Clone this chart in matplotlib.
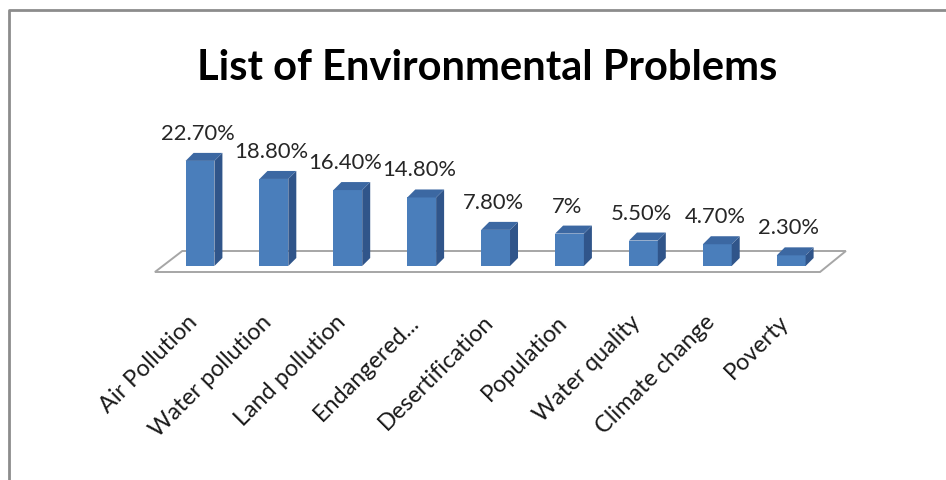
import matplotlib
matplotlib.use("Agg")
import matplotlib.pyplot as plt
from matplotlib.patches import Polygon
from matplotlib.lines import Line2D

categories = ["Air Pollution", "Water pollution", "Land pollution", "Endangered...",
              "Desertification", "Population", "Water quality", "Climate change", "Poverty"]
values = [22.7, 18.8, 16.4, 14.8, 7.8, 7.0, 5.5, 4.7, 2.3]
value_labels = ["22.70%", "18.80%", "16.40%", "14.80%", "7.80%", "7%", "5.50%", "4.70%", "2.30%"]

FONT = "Lato"
W, H = 946, 481
fig = plt.figure(figsize=(W / 100, H / 100), dpi=100)
ax = fig.add_axes([0, 0, 1, 1])

# pixel scale mapping (px per category, px per percent)
sx, sy = 73.9, 4.63
x0_px, base_px = 200, 267
ax.set_xlim(-x0_px / sx, (W - x0_px) / sx)
ax.set_ylim(-(H - base_px) / sy, base_px / sy)
ax.axis("off")

n = len(values)
dx, dy = 8 / sx, 8 / sy
w = 0.195

front_c, side_c, top_c = "#4a7ebb", "#30558a", "#3c68a2"

# floor
fl_front, fl_back = -6 / sy, 15 / sy
floor = Polygon([(-0.61, fl_front), (n - 1 + 0.39, fl_front),
                 (n - 1 + 0.74, fl_back), (-0.24, fl_back)],
                closed=True, facecolor="white", edgecolor="#a6a6a6", lw=1.4, zorder=1)
ax.add_patch(floor)

xs = list(range(n))
ax.bar(xs, values, width=2 * w, color=front_c, zorder=3, linewidth=0)
for i, v in zip(xs, values):
    side = Polygon([(i + w, 0), (i + w + dx, dy), (i + w + dx, v + dy), (i + w, v)],
                   closed=True, facecolor=side_c, edgecolor="none", zorder=3)
    top = Polygon([(i - w, v), (i + w, v), (i + w + dx, v + dy), (i - w + dx, v + dy)],
                  closed=True, facecolor=top_c, edgecolor="none", zorder=3)
    ax.add_patch(side)
    ax.add_patch(top)

for i, (v, lab) in enumerate(zip(values, value_labels)):
    ax.text(i - 0.03, v + 28 / sy, lab, ha="center", va="center",
            fontsize=15.8, family=FONT, color="#262626", zorder=5)

for i, c in enumerate(categories):
    ax.text(i - 0.08, -52 / sy, c, rotation=45, rotation_mode="anchor",
            ha="right", va="center", fontsize=16.8, family=FONT, color="#1a1a1a")

fig.text(487 / W, 1 - 68 / H, "List of Environmental Problems", ha="center", va="center",
         fontsize=30, fontweight="bold", family=FONT, color="#000000")

# outer frame (left and top edges visible)
fx, fy = 9 / W, 1 - 11 / H
fig.add_artist(Line2D([fx, fx, 1.0], [0, fy, fy], transform=fig.transFigure,
                      color="#8c8c8c", lw=2.0))

fig.savefig("out.png", dpi=100)
